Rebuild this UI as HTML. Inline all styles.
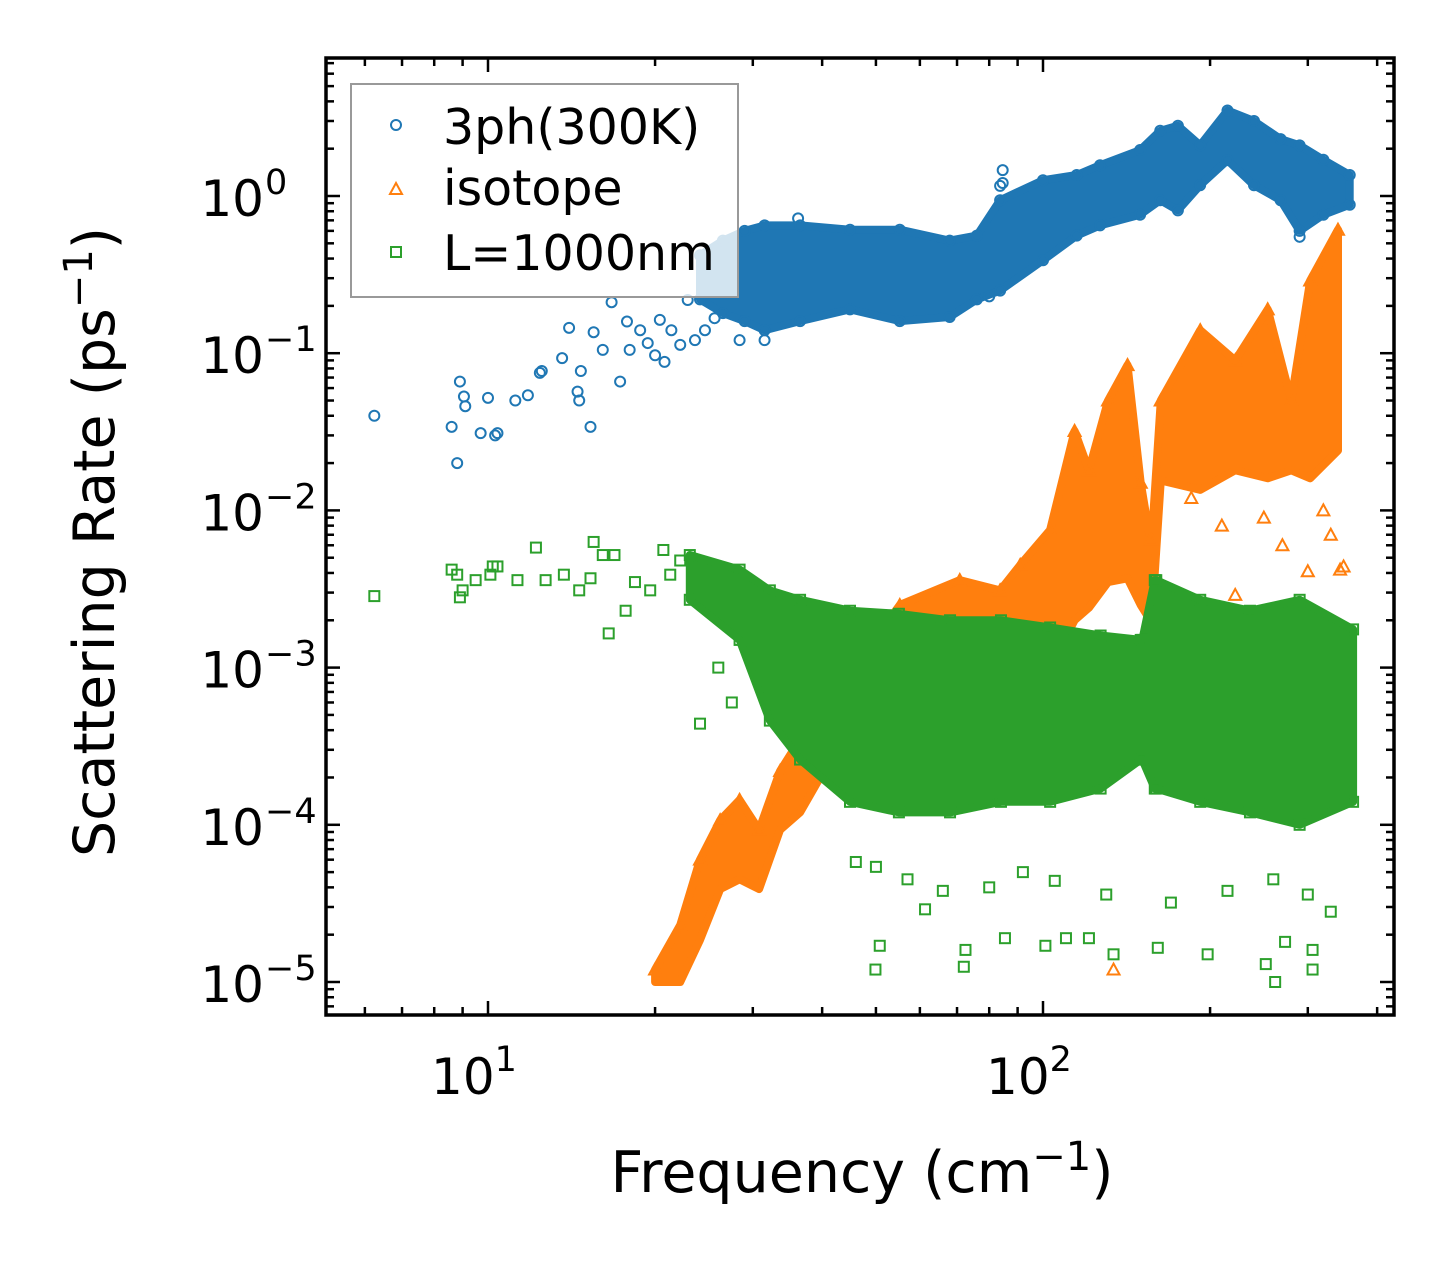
<!DOCTYPE html>
<html><head><meta charset="utf-8"><style>
html,body{margin:0;padding:0;background:#fff;}
svg{display:block;font-family:"DejaVu Sans","Liberation Sans",sans-serif;}
</style></head><body>
<svg id="chart" width="1455" height="1265" viewBox="0 0 1455 1265" xmlns="http://www.w3.org/2000/svg">
<rect x="0" y="0" width="1455" height="1265" fill="#fff"/>
<g id="marks"></g>
<g id="axes"></g>
<text x="862" y="1192" font-size="57" text-anchor="middle">Frequency (cm<tspan dy="-22" font-size="40">−1</tspan><tspan dy="22">)</tspan></text>
<text transform="translate(114,542) rotate(-90)" font-size="57" text-anchor="middle">Scattering Rate (ps<tspan dy="-22" font-size="40">−1</tspan><tspan dy="22">)</tspan></text>
<g>
<rect x="351" y="84" width="387" height="213" fill="#fff" fill-opacity="0.8" stroke="#999" stroke-width="2"/>
<circle cx="396" cy="125" r="5" fill="none" stroke="#1f77b4" stroke-width="2"/>
<text x="443" y="144" font-size="49">3ph(300K)</text>
<polygon points="396,183 390,194 402,194" fill="none" stroke="#ff7f0e" stroke-width="2"/>
<text x="443" y="205" font-size="49">isotope</text>
<rect x="391" y="247" width="10" height="10" fill="none" stroke="#2ca02c" stroke-width="2"/>
<text x="443" y="270" font-size="49">L=1000nm</text>
</g>
</svg>
<script>
// ---- data ----
const blueBandFreq=[24.1,26.5,29,31.5,36.5,44.9,55.2,67.9,76,83.7,100,115,126.7,149.6,162.6,175,191.9,215,240,268,290,320,357];
const blueBandHi=[0.42,0.52,0.6,0.65,0.65,0.61,0.61,0.52,0.56,0.94,1.26,1.36,1.57,1.96,2.6,2.8,2.1,3.5,3.0,2.3,2.1,1.7,1.36];
const blueBandLo=[0.22,0.18,0.16,0.14,0.16,0.19,0.16,0.17,0.22,0.25,0.39,0.56,0.65,0.76,0.94,0.81,1.17,1.69,1.17,0.94,0.6,0.76,0.88];
const blueFreq=[6.24,8.6,8.8,8.9,9.05,9.1,9.7,10,10.3,10.4,11.2,11.8,12.4,12.5,13.6,14.0,14.5,14.7,14.6,15.3,15.5,16.1,16.7,17.3,17.8,18.0,18.8,19.4,20.0,20.4,20.8,21.4,22.2,22.9,23.6,24.6,25.6,28.4,31.5,36.2,80,84.6,84.6,83.7,290];
const blueRate=[0.040,0.034,0.020,0.066,0.053,0.046,0.031,0.052,0.030,0.031,0.050,0.054,0.075,0.077,0.093,0.145,0.057,0.077,0.050,0.034,0.136,0.105,0.211,0.066,0.159,0.105,0.14,0.116,0.097,0.163,0.088,0.14,0.113,0.218,0.121,0.14,0.167,0.121,0.121,0.72,0.23,1.46,1.21,1.16,0.55];

const orangeBandFreq=[20.0,22.2,24.1,26.2,28.4,30.8,33.6,36.5,41.4,55.2,70.8,83.7,91,103,114,121,131,142,150,156,157,163,192,222,254,280,303,340];
const orangeBandHi=[1.2e-5,2.3e-5,6.0e-5,1.07e-4,1.44e-4,9.3e-5,2.2e-4,3.5e-4,6.2e-4,2.5e-3,3.6e-3,3.1e-3,4.5e-3,7.5e-3,0.032,0.018,0.050,0.084,0.015,6.5e-3,6.5e-3,0.05,0.14,0.09,0.19,0.05,0.29,0.61];
const orangeBandLo=[1.0e-5,1.0e-5,1.85e-5,3.9e-5,4.5e-5,3.9e-5,9.3e-5,1.2e-4,2.6e-4,5e-4,6e-4,6e-4,7e-4,1e-3,2e-3,2.4e-3,3.5e-3,3.7e-3,2.5e-3,2e-3,2e-3,0.0155,0.0135,0.018,0.016,0.018,0.016,0.024];
const orangeFreq=[134,222,343,348,330,300,185,210,250,270,320];
const orangeRate=[1.2e-5,2.9e-3,4.2e-3,4.4e-3,7e-3,4.1e-3,0.012,8e-3,9e-3,6e-3,0.01];

const greenBandFreq=[23.1,28.4,32.2,36.5,44.9,55,68,84,103,127,150,151,159,160,192,236,290,362];
const greenBandHi=[5.2e-3,4.2e-3,3.1e-3,2.7e-3,2.3e-3,2.2e-3,2.0e-3,2.0e-3,1.8e-3,1.6e-3,1.5e-3,1.5e-3,3.6e-3,3.6e-3,2.7e-3,2.3e-3,2.7e-3,1.75e-3];
const greenBandLo=[2.7e-3,1.5e-3,4.6e-4,2.6e-4,1.4e-4,1.2e-4,1.2e-4,1.4e-4,1.4e-4,1.7e-4,2.6e-4,2.6e-4,1.7e-4,1.7e-4,1.4e-4,1.2e-4,1.0e-4,1.4e-4];
const greenFreq=[6.24,8.6,8.8,8.9,9.0,9.5,10.1,10.2,10.4,11.3,12.2,12.7,13.7,14.6,15.3,15.5,16.1,16.5,16.9,17.7,18.4,19.6,20.7,21.3,22.2,24.1,26,27.5,50.8,49.9,61.3,72.5,72,85.4,101,110,121,134,161,198,252,273,306,306,262,46,50,57,66,80,92,105,130,170,215,260,300,330];
const greenRate=[2.85e-3,4.2e-3,3.9e-3,2.8e-3,3.1e-3,3.6e-3,3.9e-3,4.4e-3,4.4e-3,3.6e-3,5.8e-3,3.6e-3,3.9e-3,3.1e-3,3.7e-3,6.3e-3,5.2e-3,1.65e-3,5.2e-3,2.3e-3,3.5e-3,3.1e-3,5.6e-3,3.9e-3,4.8e-3,4.4e-4,1e-3,6e-4,1.7e-5,1.2e-5,2.9e-5,1.6e-5,1.25e-5,1.9e-5,1.7e-5,1.9e-5,1.9e-5,1.5e-5,1.65e-5,1.5e-5,1.3e-5,1.8e-5,1.2e-5,1.6e-5,1.0e-5,5.8e-5,5.4e-5,4.5e-5,3.8e-5,4e-5,5e-5,4.4e-5,3.6e-5,3.2e-5,3.8e-5,4.5e-5,3.6e-5,2.8e-5];

const xTickValues=[10,100];
const xTickLabels=["1","2"];
const yTickValues=[1,0.1,0.01,0.001,1e-4,1e-5];
const yTickLabels=["0","−1","−2","−3","−4","−5"];

// ---- axes functions ----
const L=326,R=1394,T=58,B=1015;
const X0=488,XD=555,Y0=196,YD=157.2;
function xs(f){return X0+(Math.log10(f)-1)*XD;}
function ys(v){return Y0-Math.log10(v)*YD;}
const NS="http://www.w3.org/2000/svg";
const marks=document.getElementById('marks'),axes=document.getElementById('axes');
function mk(tag,attrs,parent){const e=document.createElementNS(NS,tag);for(const k in attrs)e.setAttribute(k,attrs[k]);parent.appendChild(e);return e;}

function band(freq,hi,lo,color,name){
  let pts=[];
  for(let i=0;i<freq.length;i++)pts.push(xs(freq[i]).toFixed(1)+','+ys(hi[i]).toFixed(1));
  for(let i=freq.length-1;i>=0;i--)pts.push(xs(freq[i]).toFixed(1)+','+ys(lo[i]).toFixed(1));
  const p=mk('polygon',{points:pts.join(' '),fill:color,stroke:color,'stroke-width':8,'stroke-linejoin':'round'},marks);
  
  
}
function marker(kind,f,v,color,name){
  const x=xs(f),y=ys(v);let e;
  if(kind==='c')e=mk('circle',{cx:x,cy:y,r:5,fill:'none',stroke:color,'stroke-width':2},marks);
  else if(kind==='t')e=mk('polygon',{points:`${x},${y-6} ${x-6},${y+5} ${x+6},${y+5}`,fill:'none',stroke:color,'stroke-width':2},marks);
  else e=mk('rect',{x:x-5,y:y-5,width:10,height:10,fill:'none',stroke:color,'stroke-width':2},marks);
  
  
}
const BLUE='#1f77b4',ORANGE='#ff7f0e',GREEN='#2ca02c';
band(blueBandFreq,blueBandHi,blueBandLo,BLUE,'3ph-dense-band');
for(let i=0;i<blueBandFreq.length;i++){marker('c',blueBandFreq[i],blueBandHi[i],BLUE,'3ph-point');marker('c',blueBandFreq[i],blueBandLo[i],BLUE,'3ph-point');}
for(let i=0;i<blueFreq.length;i++)marker('c',blueFreq[i],blueRate[i],BLUE,'3ph-point');
band(orangeBandFreq,orangeBandHi,orangeBandLo,ORANGE,'isotope-dense-band');
for(let i=0;i<orangeBandFreq.length;i++)marker('t',orangeBandFreq[i],orangeBandHi[i],ORANGE,'isotope-point');
for(let i=0;i<orangeFreq.length;i++)marker('t',orangeFreq[i],orangeRate[i],ORANGE,'isotope-point');
band(greenBandFreq,greenBandHi,greenBandLo,GREEN,'boundary-dense-band');
for(let i=0;i<greenBandFreq.length;i++){marker('s',greenBandFreq[i],greenBandHi[i],GREEN,'boundary-point');marker('s',greenBandFreq[i],greenBandLo[i],GREEN,'boundary-point');}
for(let i=0;i<greenFreq.length;i++)marker('s',greenFreq[i],greenRate[i],GREEN,'boundary-point');

// frame
const fr=mk('rect',{x:L,y:T,width:R-L,height:B-T,fill:'none',stroke:'#000','stroke-width':3.5},axes);


// x ticks
for(let d=0;d<=2;d++){for(let m=1;m<=9;m++){const f=m*Math.pow(10,d);const x=xs(f);if(x<L+2||x>R-2)continue;const len=m===1?14:8;
  const t1=mk('line',{x1:x,x2:x,y1:B,y2:B-len,stroke:'#000','stroke-width':2.5},axes);
  
  
  const t2=mk('line',{x1:x,x2:x,y1:T,y2:T+len,stroke:'#000','stroke-width':2.5},axes);
  
  }}
for(let i=0;i<xTickValues.length;i++){const x=xs(xTickValues[i]);
  const t=mk('text',{x:x-14,y:1094,'font-size':50,'text-anchor':'middle'},axes);
  
  
  t.innerHTML='10<tspan dy="-23" font-size="35">'+xTickLabels[i]+'</tspan>';}
// y ticks
for(let d=-6;d<=0;d++){for(let m=1;m<=9;m++){const v=m*Math.pow(10,d);const y=ys(v);if(y<T+2||y>B-2)continue;const len=m===1?14:8;
  const t1=mk('line',{x1:L,x2:L+len,y1:y,y2:y,stroke:'#000','stroke-width':2.5},axes);
  
  
  const t2=mk('line',{x1:R,x2:R-len,y1:y,y2:y,stroke:'#000','stroke-width':2.5},axes);
  
  }}
for(let i=0;i<yTickValues.length;i++){const y=ys(yTickValues[i]);
  const t=mk('text',{x:264,y:y+20,'font-size':50,'text-anchor':'end'},axes);
  
  
  t.innerHTML='10';
  const s=mk('text',{x:265,y:y-2,'font-size':35,'text-anchor':'start'},axes);
  
  
  s.textContent=yTickLabels[i];}
</script>
</body></html>
